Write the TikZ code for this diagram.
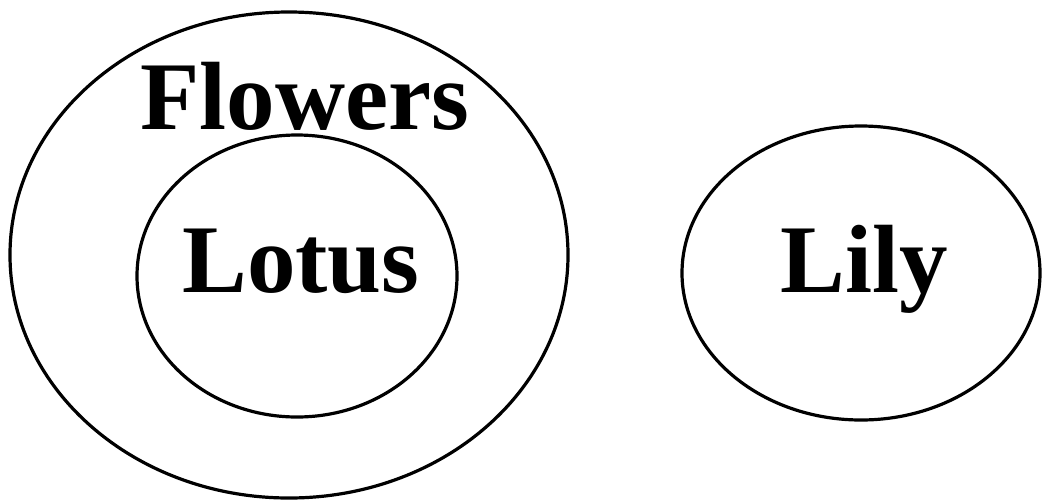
\documentclass[tikz,border=0pt]{standalone}
\usepackage{fontspec}
\setmainfont{Liberation Serif}
\usetikzlibrary{positioning}

\begin{document}
\begin{tikzpicture}[
  x=1pt,y=-1pt,
  ring/.style={draw,line width=3.2pt},
  word/.style={font=\fontsize{97}{100}\selectfont\bfseries,anchor=base,inner sep=0pt}
]
\useasboundingbox (0,0) rectangle (1043,499);
\draw[ring] (289,255) ellipse [x radius=279, y radius=243];
\draw[ring] (297,276) ellipse [x radius=160, y radius=141];
\draw[ring] (861,273) ellipse [x radius=179, y radius=147];
\node[word] (flowers) at (305,129) {Flowers};
\node[word] (lotus) at (301,292) {Lotus};
\node[word] (lily) at (864,292) {Lily};
\end{tikzpicture}
\end{document}
